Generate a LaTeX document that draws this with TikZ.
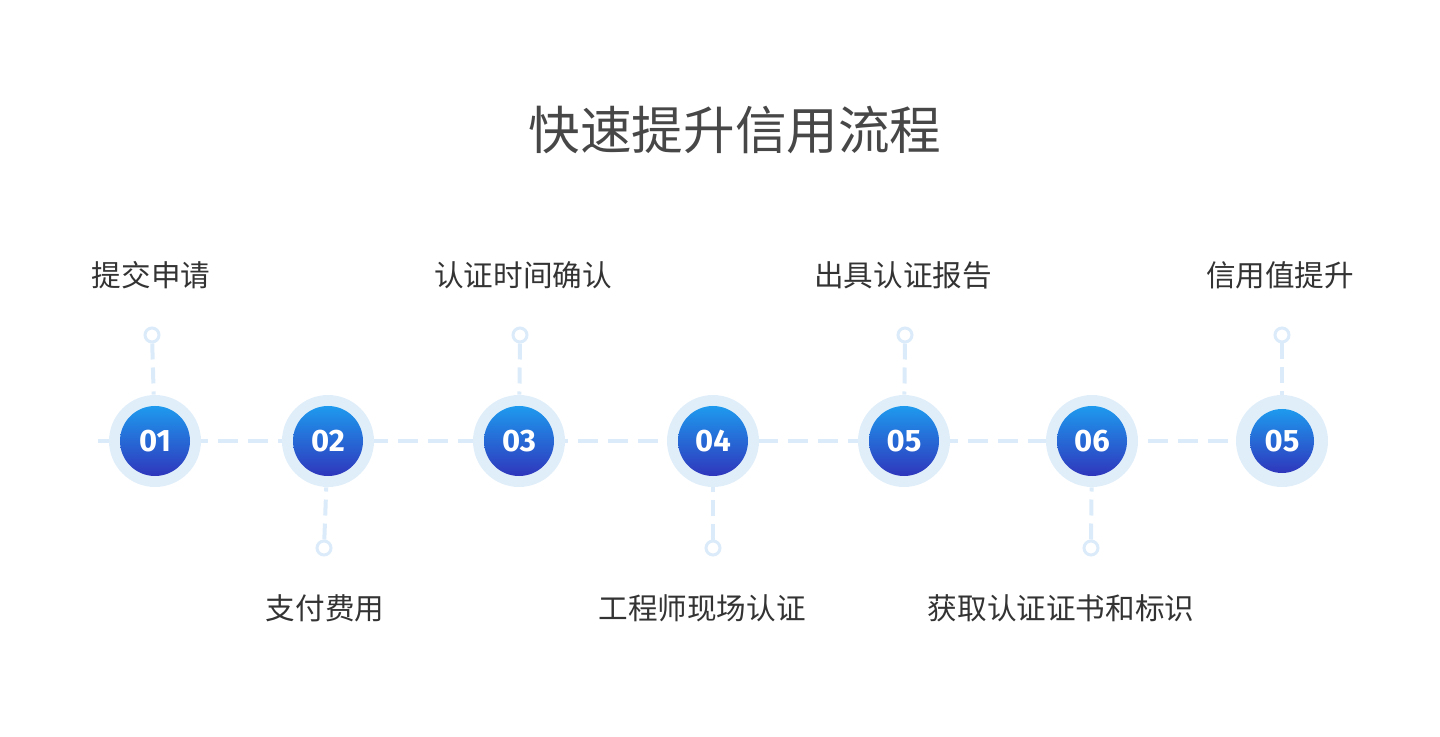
\documentclass[tikz,border=0pt]{standalone}
\usepackage{fontspec}
\setmainfont{Noto Sans CJK SC}
\newfontfamily\numfont{Fira Sans}
\usetikzlibrary{positioning, backgrounds}

\definecolor{halo}{HTML}{E0EEFA}
\definecolor{track}{HTML}{DCEBF9}
\definecolor{topblue}{HTML}{1E9AEE}
\definecolor{botblue}{HTML}{2F36BC}
\definecolor{txt}{HTML}{333333}

\begin{document}
\begin{tikzpicture}[
    x=0.5pt, y=-0.5pt,
    font=\fontsize{14.8pt}{17pt}\selectfont,
    track/.style={draw=track, line width=2pt, dash pattern=on 10pt off 5pt},
    ring/.style={circle, fill=halo, minimum size=46pt, inner sep=0pt},
    stepnum/.style={circle, top color=topblue, bottom color=botblue, minimum size=35pt, inner sep=0pt,
        text=white, font=\numfont\bfseries\fontsize{15.5pt}{15.5pt}\selectfont},
    dot/.style={circle, draw=track, line width=1.5pt, fill=white, minimum size=7pt, inner sep=0pt},
    caption/.style={text=txt}
]
\useasboundingbox (0,0) rectangle (1440,737);

% 1. Title
\node[text=txt!90, font=\fontsize{25.8pt}{30pt}\selectfont] (title) at (735,130) {快速提升信用流程};

% 2. Step circles
\node[ring] (h1) at (155,441) {};
\node[ring] (h2) at (328,441) {};
\node[ring] (h3) at (519,441) {};
\node[ring] (h4) at (713,441) {};
\node[ring] (h5) at (904,441) {};
\node[ring] (h6) at (1092,441) {};
\node[ring] (h7) at (1282,441) {};

\node[stepnum] (s1) at (h1) {01};
\node[stepnum] (s2) at (h2) {02};
\node[stepnum] (s3) at (h3) {03};
\node[stepnum] (s4) at (h4) {04};
\node[stepnum] (s5) at (h5) {05};
\node[stepnum] (s6) at (h6) {06};
\node[stepnum, minimum size=32pt] (s7) at (h7) {05};

% 3. Small end dots
\node[dot] (d1) at (152,335) {};
\node[dot] (d2) at (324,548) {};
\node[dot] (d3) at (520,335) {};
\node[dot] (d4) at (713,548) {};
\node[dot] (d5) at (905,335) {};
\node[dot] (d6) at (1091,548) {};
\node[dot] (d7) at (1282,335) {};

% 4. Labels
\node[caption] (l1) at (151,275) {提交申请};
\node[caption] (l2) at (325,608) {支付费用};
\node[caption] (l3) at (523,275) {认证时间确认};
\node[caption] (l4) at (702,608) {工程师现场认证};
\node[caption] (l5) at (903,275) {出具认证报告};
\node[caption] (l6) at (1061,608) {获取认证证书和标识};
\node[caption] (l7) at (1280,275) {信用值提升};

% Track
\coordinate (start) at (98,441);
\begin{scope}[on background layer]
    \draw[track] (start) -- (h7.center);
\end{scope}
\draw[track, dash pattern=on 8pt off 4pt] (d1) -- (h1);
\draw[track, dash pattern=on 8pt off 4pt] (d2) -- (h2);
\draw[track, dash pattern=on 8pt off 4pt] (d3) -- (h3);
\draw[track, dash pattern=on 8pt off 4pt] (d4) -- (h4);
\draw[track, dash pattern=on 8pt off 4pt] (d5) -- (h5);
\draw[track, dash pattern=on 8pt off 4pt] (d6) -- (h6);
\draw[track, dash pattern=on 8pt off 4pt] (d7) -- (h7);

\end{tikzpicture}
\end{document}
